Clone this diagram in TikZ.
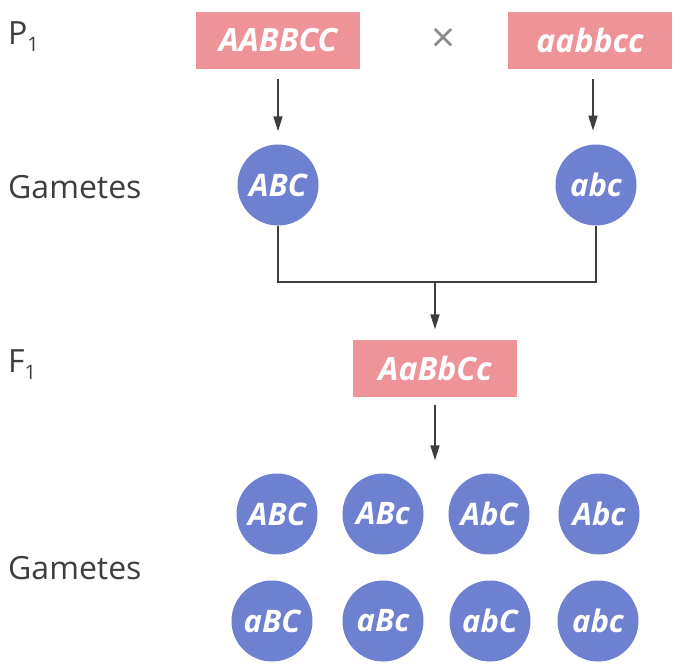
\documentclass[tikz,border=0pt]{standalone}
\usepackage{fontspec}
\setmainfont{Open Sans}
\usetikzlibrary{arrows.meta}
\definecolor{boxpink}{RGB}{238,148,152}
\definecolor{gamblue}{RGB}{110,128,208}
\definecolor{labgray}{RGB}{62,62,62}

\begin{document}
\begin{tikzpicture}[x=1pt,y=-1pt,
	geno/.style={rectangle,fill=boxpink,inner sep=0,minimum width=164pt,minimum height=57pt,text=white,font=\fontsize{32}{32}\selectfont\bfseries\itshape},
	gam/.style={circle,fill=gamblue,inner sep=0,minimum size=81pt,text=white,font=\fontsize{31}{31}\selectfont\bfseries\itshape},
	lab/.style={anchor=west,inner sep=0,text=labgray,font=\fontsize{32}{32}\selectfont},
	arr/.style={draw=labgray,line width=1.6pt,-{Triangle[length=15pt,width=9pt]}},
	lin/.style={draw=labgray,line width=1.2pt}]
	\useasboundingbox (0,0) rectangle (685,670);
	\node[lab] (lp) at (8,37) {P\raisebox{-7pt}{\fontsize{20}{20}\selectfont 1}};
	\node[lab] (lg1) at (8,187) {Gametes};
	\node[lab] (lf) at (8,365) {F\raisebox{-7pt}{\fontsize{20}{20}\selectfont 1}};
	\node[lab] (lg2) at (8,568) {Gametes};
	\node[geno] (p1) at (278,40) {AABBCC};
	\node[geno] (p2) at (590,40) {aabbcc};
	\node[text=labgray!60,font=\fontsize{42}{42}\selectfont] (x) at (444,40) {×};
	\node[gam] (g1) at (278,185) {ABC};
	\node[gam] (g2) at (596,185) {abc};
	\node[geno] (f1) at (435,368) {AaBbCc};
	\node[gam] (h1) at (277,514) {ABC};
	\node[gam] (h2) at (383,514) {ABc};
	\node[gam] (h3) at (489,514) {AbC};
	\node[gam] (h4) at (599,514) {Abc};
	\node[gam] (h5) at (272,621) {aBC};
	\node[gam] (h6) at (383,621) {aBc};
	\node[gam] (h7) at (490,621) {abC};
	\node[gam] (h8) at (598,621) {abc};
	\coordinate (j) at (435,282);
	\draw[arr] ([yshift=-10pt]p1.south) -- ([yshift=13pt]g1.north);
	\draw[arr] ([xshift=3pt,yshift=-10pt]p2.south) -- ++(0,52);
	\draw[lin] (g1.south) |- (j) -| (g2.south);
	\draw[arr] (j) -- ([yshift=10pt]f1.north);
	\draw[arr] ([yshift=-8pt]f1.south) -- ([yshift=13pt]h1.north -| f1.south);
\end{tikzpicture}
\end{document}
